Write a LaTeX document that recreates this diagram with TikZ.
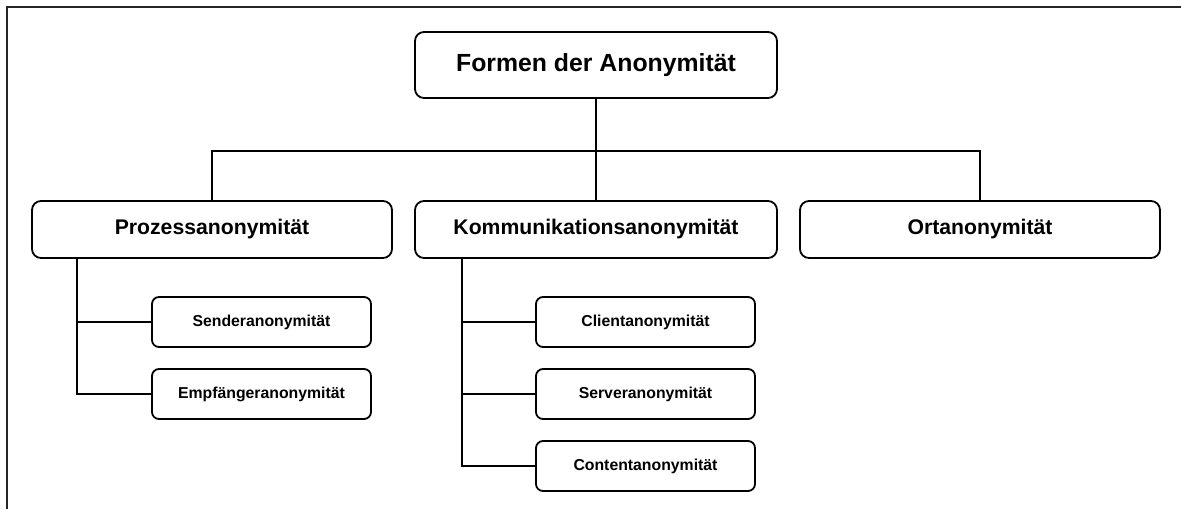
\documentclass[tikz,border=0pt]{standalone}
\usepackage{fontspec}
\setmainfont{Liberation Sans}
\usetikzlibrary{calc}
\begin{document}
\begin{tikzpicture}[x=1pt,y=-1pt,
  line width=2pt,
  box/.style={draw=black, line width=1.8pt, rounded corners=9pt, inner sep=0pt, align=center, font=\bfseries},
  rootbox/.style={box, minimum width=362pt, minimum height=66pt, font=\fontsize{24.8}{28}\selectfont\bfseries},
  groupbox/.style={box, minimum width=360pt, minimum height=57pt, font=\fontsize{21.2}{24}\selectfont\bfseries},
  leafbox/.style={box, rounded corners=7pt, minimum width=219pt, minimum height=50pt, font=\fontsize{15.8}{18}\selectfont\bfseries},
  link/.style={draw=black, line width=2pt}
]
\useasboundingbox (0,0) rectangle (1181,509);
% frame along the left and top edges
\draw[line width=2pt, black!85] (7,509) -- (7,7) -- (1181,7);

% root
\node[rootbox] (root) at (596,65) {Formen der Anonymität};

% second level
\node[groupbox] (proz) at (212,229.5) {Prozessanonymität};
\node[groupbox, minimum width=362pt] (komm) at (596,229.5) {Kommunikationsanonymität};
\node[groupbox] (ort) at (980,229.5) {Ortanonymität};

% leaves
\node[leafbox] (send) at (261.5,322) {Senderanonymität};
\node[leafbox] (empf) at (261.5,394) {Empfängeranonymität};
\node[leafbox] (client) at (645.5,322) {Clientanonymität};
\node[leafbox] (server) at (645.5,394) {Serveranonymität};
\node[leafbox] (content) at (645.5,466) {Contentanonymität};

% root to second level
\coordinate (bus) at ($(root.south)+(0,52)$);
\draw[link] (root.south) -- (bus);
\draw[link] (bus) -| (proz.north);
\draw[link] (bus) -| (ort.north);
\draw[link] (bus) -- (komm.north);

% second level to leaves
\coordinate (ptrunk) at ($(proz.south west)+(46,0)$);
\draw[link] (ptrunk) |- (send.west);
\draw[link] (ptrunk) |- (empf.west);

\coordinate (ktrunk) at ($(komm.south west)+(48,0)$);
\draw[link] (ktrunk) |- (client.west);
\draw[link] (ktrunk) |- (server.west);
\draw[link] (ktrunk) |- (content.west);
\end{tikzpicture}
\end{document}
